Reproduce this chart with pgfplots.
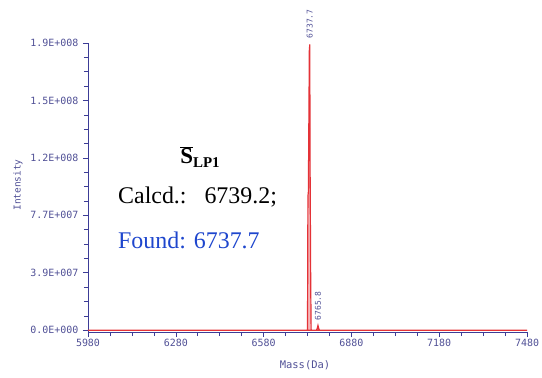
\documentclass[border=0pt]{standalone}
\usepackage{fontspec}
\setmainfont{Liberation Serif}
\newfontfamily\monof{DejaVu Sans Mono}
\usepackage{pgfplots}
\pgfplotsset{compat=1.18}
\definecolor{axisblue}{RGB}{60,60,150}
\definecolor{labblue}{RGB}{80,80,150}
\definecolor{peakred}{RGB}{228,50,55}
\definecolor{foundblue}{RGB}{30,70,205}
\begin{document}
\begin{tikzpicture}
\useasboundingbox (-88bp,-46bp) rectangle (454bp,332bp);
\begin{axis}[at={(0,0)}, anchor=south west, scale only axis,
  width=439bp, height=289bp,
  xmin=5980, xmax=7480, ymin=-1.2e6, ymax=1.93e8,
  axis x line*=bottom, axis y line*=left,
  axis line style={axisblue, line width=0.8pt},
  xtick={5980,6280,6580,6880,7180,7480},
  xticklabels={5980,6280,6580,6880,7180,7480},
  minor x tick num=3,
  ytick={0,3.86e7,7.72e7,1.158e8,1.544e8,1.93e8},
  yticklabels={0.0E+000,3.9E+007,7.7E+007,1.2E+008,1.5E+008,1.9E+008},
  minor y tick num=3,
  scaled x ticks=false, scaled y ticks=false,
  tick align=outside, major tick length=5bp, minor tick length=4bp,
  tick style={axisblue, line width=0.6pt},
  tick label style={font=\monof\fontsize{10}{12}\selectfont, text=labblue},
  xticklabel style={yshift=1bp},
  yticklabel style={xshift=-1bp},
  clip=false,
]
\addplot[peakred, line width=1.2pt, fill=peakred!35] coordinates {
  (5980,0) (6500,0) (6725,0) (6730,0) (6731.5,9.0e7) (6733,9.3e7)
  (6736.3,1.88e8) (6737.7,1.92e8) (6739,1.05e8) (6741,3.0e7) (6742.5,0)
  (6760,0) (6763,1.0e6) (6765.8,3.2e6) (6768.5,1.0e6) (6771,0)
  (7000,0) (7480,0)
} \closedcycle;
\node[yshift=5bp, rotate=90, anchor=west, inner sep=1pt,
  font=\monof\fontsize{8}{9}\selectfont, text=labblue] at (axis cs:6737.7,1.92e8) {6737.7};
\node[yshift=4bp, rotate=90, anchor=west, inner sep=1pt,
  font=\monof\fontsize{8}{9}\selectfont, text=labblue] at (axis cs:6765.8,3.2e6) {6765.8};
\end{axis}
\node[rotate=90, font=\monof\fontsize{9.5}{11}\selectfont, text=labblue] at (-70bp,147bp) {Intensity};
\node[font=\monof\fontsize{10.5}{12}\selectfont, text=labblue] at (217bp,-33bp) {Mass(Da)};
\node[font=\fontsize{23}{26}\selectfont] at (112bp,175bp)
  {$\overline{\mbox{\bfseries S}}$\raisebox{-4bp}{\fontsize{15}{17}\selectfont\bfseries LP1}};
\node[anchor=west, inner sep=0pt, font=\fontsize{24}{28}\selectfont] at (30bp,135bp) {Calcd.:\ \ \ 6739.2;};
\node[anchor=west, inner sep=0pt, font=\fontsize{24}{28}\selectfont, text=foundblue] at (30bp,92bp) {Found: 6737.7};
\end{tikzpicture}
\end{document}
